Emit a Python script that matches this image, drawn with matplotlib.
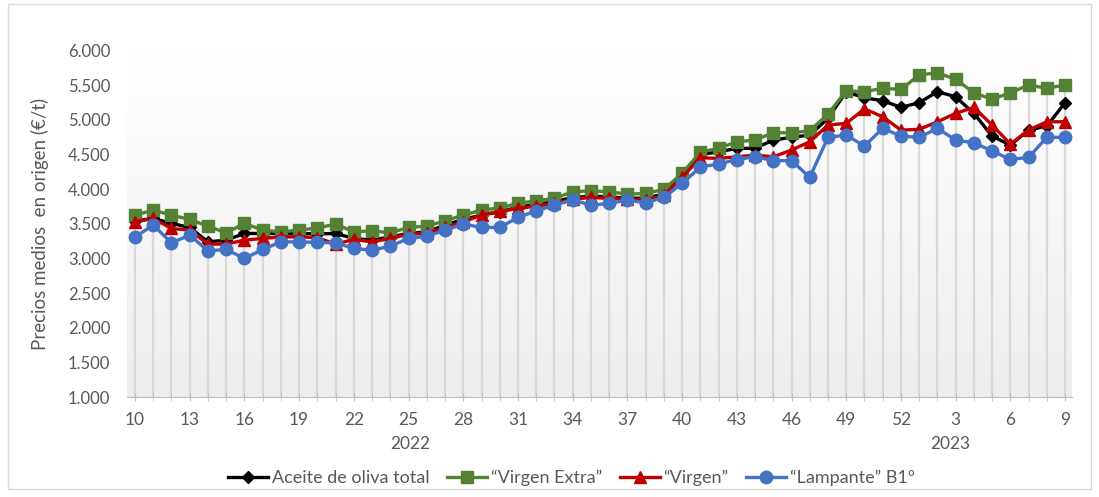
import matplotlib.pyplot as plt
import numpy as np
from matplotlib.patches import Rectangle
from matplotlib.ticker import FuncFormatter, MultipleLocator, FixedLocator

plt.rcParams['font.family'] = ['Lato', 'DejaVu Sans']

weeks = list(range(10, 53)) + list(range(1, 10))

total = [3544, 3578, 3506, 3448, 3240, 3265, 3361, 3361, 3361, 3361, 3356,
         3361, 3289, 3265, 3312, 3361, 3385, 3481, 3564, 3626, 3674, 3740,
         3780, 3820, 3880, 3900, 3890, 3870, 3870, 3930, 4190, 4500, 4540,
         4590, 4590, 4710, 4749, 4782, 5023, 5408, 5320, 5278, 5182, 5249,
         5408, 5335, 5095, 4767, 4637, 4854, 4912, 5249]
extra = [3626, 3698, 3626, 3564, 3467, 3370, 3506, 3409, 3385, 3409, 3440,
         3496, 3385, 3399, 3370, 3448, 3467, 3544, 3626, 3698, 3730, 3795,
         3833, 3867, 3963, 3977, 3963, 3929, 3939, 3997, 4228, 4535, 4590,
         4685, 4710, 4815, 4815, 4844, 5085, 5422, 5408, 5457, 5442, 5649,
         5682, 5587, 5393, 5298, 5393, 5504, 5457, 5504]
virgen = [3529, 3578, 3433, 3409, 3207, 3207, 3265, 3289, 3312, 3312, 3300,
          3207, 3275, 3240, 3289, 3351, 3361, 3448, 3529, 3626, 3680, 3723,
          3756, 3795, 3853, 3882, 3867, 3853, 3843, 3915, 4170, 4455, 4445,
          4468, 4493, 4468, 4565, 4685, 4926, 4951, 5160, 5046, 4854, 4864,
          4974, 5095, 5182, 4926, 4652, 4854, 4974, 4974]
lampante = [3312, 3481, 3226, 3337, 3110, 3130, 3000, 3130, 3240, 3240, 3233,
            3226, 3145, 3120, 3178, 3289, 3322, 3409, 3496, 3448, 3448, 3593,
            3688, 3770, 3843, 3770, 3795, 3843, 3804, 3882, 4084, 4320, 4365,
            4428, 4470, 4413, 4413, 4171, 4749, 4782, 4623, 4879, 4767, 4749,
            4879, 4710, 4671, 4551, 4431, 4460, 4749, 4749]

years = ['2022', '2023']
year_pos = [15.1, 44.7]

grey = '#595959'
x = np.arange(len(weeks))

fig = plt.figure(figsize=(10.99, 4.97), dpi=100)
fig.patches.append(Rectangle((0.007, 0.016), 0.986, 0.975, transform=fig.transFigure,
                             fill=False, ec='#d9d9d9', lw=1))
ax = fig.add_axes([127 / 1099, 1 - 397 / 497, (1072 - 127) / 1099, (397 - 50.7) / 497])

xmin, xmax = -0.44, 51.38
ax.set_xlim(xmin, xmax)
ax.set_ylim(1000, 6000)

# plot area gradient
grad = np.linspace(0, 1, 256).reshape(-1, 1)
ax.imshow(grad, extent=[xmin, xmax, 1000, 6000], aspect='auto', origin='upper',
          cmap=plt.matplotlib.colors.LinearSegmentedColormap.from_list('g', ['white', '#eeeeee']),
          zorder=0)

# drop lines
top = np.max([total, extra, virgen, lampante], axis=0)
ax.vlines(x, 1000, top, color='#d9d9d9', lw=1.6, zorder=1)

series = [
    (total, 'Aceite de oliva total', '#000000', 'D', 6),
    (extra, '\u201cVirgen Extra\u201d', '#548235', 's', 8),
    (virgen, '\u201cVirgen\u201d', '#C00000', '^', 8),
    (lampante, '\u201cLampante\u201d B1\u00ba', '#4472C4', 'o', 9),
]
for z, (vals, lab, col, mk, ms) in enumerate(series):
    ax.plot(x, vals, color=col, lw=2.4, marker=mk, ms=ms, label=lab, zorder=3 + z)

for s in ['top', 'right', 'left']:
    ax.spines[s].set_visible(False)
ax.spines['bottom'].set_color('#bfbfbf')

ax.yaxis.set_major_locator(MultipleLocator(500))
ax.yaxis.set_major_formatter(FuncFormatter(lambda v, p: f'{v:,.0f}'.replace(',', '.')))
ax.tick_params(axis='y', length=0, labelsize=12, labelcolor=grey, pad=12)

ax.xaxis.set_major_locator(FixedLocator(x[::3]))
ax.set_xticklabels([str(w) for w in weeks[::3]])
ax.xaxis.set_minor_locator(FixedLocator(x))
ax.tick_params(axis='x', which='both', direction='inout', length=6, color='#bfbfbf',
               labelsize=12.5, labelcolor=grey, pad=8)

for yr, pos in zip(years, year_pos):
    ax.text(pos, -0.135, yr, transform=ax.get_xaxis_transform(), ha='center', va='center',
            fontsize=12.5, color=grey)

ax.set_ylabel('Precios medios  en origen (\u20ac/t)', fontsize=13.5, color=grey, labelpad=14)

leg = fig.legend(loc='center', bbox_to_anchor=(0.52, 0.038), ncol=4, frameon=False,
                 fontsize=13, handlelength=2.2, handletextpad=0.2, columnspacing=1.0,
                 labelcolor=grey)

fig.savefig('out.png', dpi=100)
